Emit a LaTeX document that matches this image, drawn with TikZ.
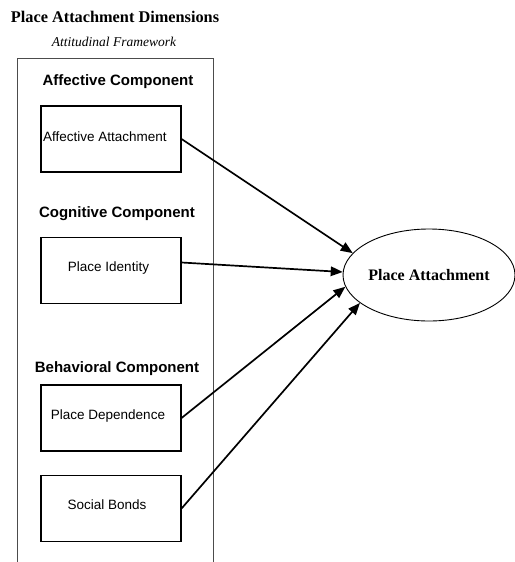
\documentclass[tikz,border=0pt]{standalone}
\usepackage{fontspec}
\setmainfont{Liberation Serif}
\setsansfont{Liberation Sans}
\usetikzlibrary{arrows.meta,shapes.geometric}

\tikzset{
  heading/.style={font=\fontsize{16.3}{18}\selectfont\bfseries\rmfamily, anchor=base, inner sep=0pt},
  subheading/.style={font=\fontsize{13.5}{15}\selectfont\itshape\rmfamily, anchor=base, inner sep=0pt},
  component/.style={font=\fontsize{15}{17}\selectfont\bfseries\sffamily, anchor=base, inner sep=0pt},
  itembox/.style={draw=black, line width=1.1pt, rectangle, minimum width=140pt, minimum height=66pt, inner sep=0pt},
  itemtext/.style={font=\fontsize{13.5}{15}\selectfont\sffamily, anchor=base, inner sep=0pt},
  outcome/.style={draw=black, line width=0.9pt, ellipse, minimum width=172pt, minimum height=92pt, inner sep=0pt,
                  font=\fontsize{16}{18}\selectfont\bfseries\rmfamily},
  link/.style={line width=1.7pt, -{Triangle[length=12pt,width=9.5pt]}},
  frame/.style={draw=black!70, line width=0.9pt},
}

\begin{document}
\begin{tikzpicture}[x=1pt,y=-1pt]
  \useasboundingbox (0,0) rectangle (514,562);

  % titles
  \node[heading] (title) at (115,22) {Place Attachment Dimensions};
  \node[subheading] (sub) at (114,46) {Attitudinal Framework};

  % open frame around the three components
  \draw[frame] (17,562) -- (17,58) -- (213,58) -- (213,562);

  % component headings
  \node[component] (affc) at (118,85) {Affective Component};
  \node[component] (cogc) at (117,217) {Cognitive Component};
  \node[component] (behc) at (117,372) {Behavioral Component};

  % item boxes
  \node[itembox] (b1) at (111,139) {};
  \node[itembox] (b2) at (111,270.5) {};
  \node[itembox] (b3) at (111,418) {};
  \node[itembox] (b4) at (111,508.5) {};

  % item labels
  \node[itemtext, anchor=base west] (t1) at (43,141.5) {Affective Attachment};
  \node[itemtext] (t2) at (108.5,271.7) {Place Identity};
  \node[itemtext] (t3) at (108,419.7) {Place Dependence};
  \node[itemtext] (t4) at (107,509.7) {Social Bonds};

  % outcome
  \node[outcome] (pa) at (429,275) {Place Attachment};

  % links
  \draw[link] (b1.east) -- (pa.164);
  \draw[link] ([yshift=8pt]b2.east) -- (pa.178);
  \draw[link] (b3.east) -- (pa.188.7);
  \draw[link] (b4.east) -- (pa.202);
\end{tikzpicture}
\end{document}
